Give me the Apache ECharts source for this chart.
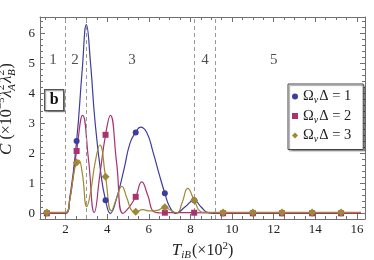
<!DOCTYPE html>
<html>
<head>
<meta charset="utf-8">
<script src="https://cdn.jsdelivr.net/npm/echarts@6.0.0/dist/echarts.min.js"></script>
<style>
html,body{margin:0;padding:0;background:#fff;}
#chart{width:374px;height:260px;}
</style>
</head>
<body>
<div id="chart"></div>
<script>
// ---- data ----
const sampleX = [1.1, 2.53, 3.92, 5.37, 6.77, 8.18, 9.57, 11.0, 12.4, 13.85, 15.24];
const marks1 = [0, 2.41, 0.44, 2.7, 0.67, 0.44, 0, 0, 0, 0, 0];
const marks2 = [0, 2.08, 2.62, 0.55, 0.02, 0.02, 0, 0, 0, 0, 0];
const marks3 = [0.03, 1.7, 1.22, 0.05, 0.2, 0.44, 0.03, 0.03, 0.03, 0.03, 0.03];

const curve1X = [1.1, 2.0, 2.2, 2.53, 2.8, 3.0, 3.2, 3.41, 3.7, 3.92, 4.15, 4.45, 4.8, 5.1, 5.37, 5.6, 5.9, 6.2, 6.5, 6.77, 7.0, 7.3, 7.75, 8.18, 8.5, 8.85, 9.2, 16.2];
const curve1Y = [0, 0, 0.5, 2.41, 4.8, 6.3, 5.0, 3.1, 1.3, 0.44, 0, 0.5, 1.45, 2.35, 2.7, 2.88, 2.7, 2.05, 1.3, 0.67, 0.22, 0, 0.22, 0.44, 0.22, 0.02, 0, 0];

const curve2X = [1.1, 2.0, 2.2, 2.53, 2.82, 3.1, 3.38, 3.65, 3.92, 4.15, 4.45, 4.75, 5.05, 5.37, 5.66, 5.95, 6.25, 6.6, 6.77, 8.18, 9.57, 16.2];
const curve2Y = [0, 0, 0.45, 2.08, 3.27, 1.8, 0.03, 1.3, 2.62, 3.27, 1.7, 0.0, 0.2, 0.55, 1.05, 0.6, 0.05, 0.01, 0.02, 0.02, 0, 0];

const curve3X = [1.1, 2.0, 2.2, 2.4, 2.53, 2.63, 2.8, 3.02, 3.2, 3.42, 3.65, 3.92, 4.2, 4.45, 4.7, 4.95, 5.2, 5.37, 5.7, 6.05, 6.4, 6.77, 7.05, 7.35, 7.6, 7.87, 8.18, 8.5, 8.7, 9.57, 16.2];
const curve3Y = [0.03, 0.03, 0.45, 1.35, 1.7, 1.78, 1.35, 0.22, 0.7, 1.7, 2.28, 1.22, 0.08, 0.5, 0.9, 0.5, 0.08, 0.05, 0.12, 0.08, 0.1, 0.2, 0.1, 0.02, 0.35, 0.83, 0.44, 0.05, 0.03, 0.03, 0.03];

const regionLabels = ['1', '2', '3', '4', '5'];
const regionX = [1.39, 2.45, 5.19, 8.7, 12.0];
const regionY = 5.1;
const dividers = [2.0, 3.0, 8.18, 9.18];

const xMajor = [2, 4, 6, 8, 10, 12, 14, 16];
const yMajor = [0, 1, 2, 3, 4, 5, 6];
const seriesLabels = ['1', '2', '3'];

// ---- helpers ----
const XMIN = 0.77, XMAX = 16.39, YMIN = -0.19, YMAX = 6.553;
const xMinor = []; for (let v = 1; v <= 16.01; v += 0.5) { if (Math.abs(v/2 - Math.round(v/2)) > 1e-6) xMinor.push(+v.toFixed(2)); }
const yMinor = []; for (let i = 1; i <= 32; i++) { const v = +(i*0.2).toFixed(2); if (Math.abs(v - Math.round(v)) > 1e-6) yMinor.push(v); }
const zip = (xs, ys) => xs.map((x, i) => [x, ys[i]]);

const colors = ['#3d3d9e', '#a8336f', '#9e8833'];
const symbols = ['circle', 'rect', 'diamond'];
const symSizes = [6, 6, 8];
const frame = '#707070';
const serif = 'Liberation Serif';
const ink = '#222';

function xAxisDef(pos, major) {
  return {
    type: 'value', position: pos, min: XMIN, max: XMAX,
    axisLine: { show: major, onZero: false, lineStyle: { color: frame, width: 1 } },
    axisTick: { show: true, inside: true, length: major ? 5 : 3, customValues: major ? xMajor : xMinor, lineStyle: { color: frame, width: 1 } },
    axisLabel: (pos === 'bottom' && major) ? { show: true, customValues: xMajor, margin: 4, fontFamily: serif, fontSize: 13, color: ink } : { show: false },
    splitLine: { show: false }
  };
}
function yAxisDef(pos, major) {
  return {
    type: 'value', position: pos, min: YMIN, max: YMAX,
    axisLine: { show: major, onZero: false, lineStyle: { color: frame, width: 1 } },
    axisTick: { show: true, inside: true, length: major ? 5 : 3, customValues: major ? yMajor : yMinor, lineStyle: { color: frame, width: 1 } },
    axisLabel: (pos === 'left' && major) ? { show: true, customValues: yMajor, margin: 5, fontFamily: serif, fontSize: 13, color: ink } : { show: false },
    splitLine: { show: false }
  };
}

const xAxes = [xAxisDef('bottom', true), xAxisDef('bottom', false), xAxisDef('top', true), xAxisDef('top', false)];
xAxes[0].name = '{it|T}{sb|iB}{n|(×10}{sp|2}{n|)}';
xAxes[0].nameLocation = 'middle';
xAxes[0].nameGap = 16;
xAxes[0].nameTextStyle = {
  fontFamily: serif, fontSize: 15, color: ink,
  rich: {
    it: { fontFamily: serif, fontStyle: 'italic', fontSize: 17, lineHeight: 20, color: ink },
    sb: { fontFamily: serif, fontStyle: 'italic', fontSize: 11, lineHeight: 11, verticalAlign: 'bottom', color: ink, padding: [0, 1, 0, 0] },
    n: { fontFamily: serif, fontSize: 16, lineHeight: 20, color: ink },
    sp: { fontFamily: serif, fontSize: 11, lineHeight: 11, verticalAlign: 'top', color: ink }
  }
};
const yAxes = [yAxisDef('left', true), yAxisDef('left', false), yAxisDef('right', true), yAxisDef('right', false)];
yAxes[0].name = '{it|C}{n| (×10}{sp|−5}{it|λ}{sp|2}{sb|A}{it|λ}{sp|2}{sb|B}{n|)}';
yAxes[0].nameLocation = 'middle';
yAxes[0].nameGap = 18;
yAxes[0].nameTextStyle = {
  fontFamily: serif, fontSize: 15, color: ink, padding: [0, 0, 0, 18],
  rich: {
    it: { fontFamily: serif, fontStyle: 'italic', fontSize: 17, lineHeight: 22, color: ink },
    n: { fontFamily: serif, fontSize: 16, lineHeight: 22, color: ink },
    sp: { fontFamily: serif, fontSize: 11, lineHeight: 11, verticalAlign: 'top', color: ink },
    sb: { fontFamily: serif, fontStyle: 'italic', fontSize: 11, lineHeight: 11, verticalAlign: 'bottom', color: ink, padding: [0, 1, 0, -6] }
  }
};

const curves = [zip(curve1X, curve1Y), zip(curve2X, curve2Y), zip(curve3X, curve3Y)];
const marks = [zip(sampleX, marks1), zip(sampleX, marks2), zip(sampleX, marks3)];
const seriesNames = seriesLabels.map(k => 'S' + k);

const series = [];
series.push({
  type: 'line', name: 'dividers', data: [], xAxisIndex: 0, yAxisIndex: 0, silent: true,
  markLine: {
    symbol: ['none', 'none'], silent: true, label: { show: false },
    lineStyle: { color: '#999', type: [4, 3], width: 1 },
    data: dividers.map(v => ({ xAxis: v }))
  }
});
curves.forEach((c, i) => {
  series.push({
    type: 'line', name: 'curve' + i, data: c, xAxisIndex: 0, yAxisIndex: 0,
    smooth: 0.5, showSymbol: false, symbol: 'none',
    lineStyle: { color: colors[i], width: 1.2 }, z: 3 + i
  });
});
marks.forEach((m, i) => {
  series.push({
    type: 'scatter', name: seriesNames[i], data: m, xAxisIndex: 0, yAxisIndex: 0,
    symbol: symbols[i], symbolSize: symSizes[i],
    itemStyle: { color: colors[i], opacity: 1 }, z: 6 + i
  });
});
series.push({
  type: 'scatter', name: 'regions', xAxisIndex: 0, yAxisIndex: 0, symbolSize: 0, silent: true,
  data: regionX.map((x, i) => ({ value: [x, regionY], name: regionLabels[i] })),
  label: { show: true, position: 'inside', formatter: '{b}', fontFamily: serif, fontSize: 15, color: ink },
  z: 10
});

const option = {
  animation: false,
  backgroundColor: '#fff',
  grid: { left: 40, right: 9, top: 17, bottom: 41, containLabel: false, outerBoundsMode: 'none' },
  xAxis: xAxes,
  yAxis: yAxes,
  legend: {
    data: seriesNames.map((n, i) => ({ name: n, icon: symbols[i] })),
    orient: 'vertical', left: 288, top: 84,
    itemWidth: 6, itemHeight: 6, itemGap: 3,
    padding: [5, 12, 5, 4],
    backgroundColor: '#fff', borderColor: '#444', borderWidth: 1,
    shadowColor: 'rgba(0,0,0,0.35)', shadowOffsetX: 1.5, shadowOffsetY: 1.5, shadowBlur: 1,
    formatter: name => '{g|Ω}{s|ν}{g|Δ = ' + name.slice(1) + '}',
    textStyle: {
      fontFamily: serif, fontSize: 14, color: ink, padding: [0, 0, 0, 0],
      rich: {
        g: { fontFamily: serif, fontSize: 14.5, lineHeight: 18, color: ink },
        s: { fontFamily: serif, fontStyle: 'italic', fontSize: 10, lineHeight: 10, verticalAlign: 'bottom', color: ink, padding: [0, 1, 0, 0] }
      }
    }
  },
  graphic: [
    {
      type: 'group', left: 44, top: 89,
      children: [
        { type: 'rect', shape: { x: 0, y: 0, width: 19, height: 21 }, style: { fill: '#fff', stroke: '#555', lineWidth: 1.2, shadowColor: 'rgba(0,0,0,0.3)', shadowOffsetX: 1, shadowOffsetY: 1, shadowBlur: 1 } },
        { type: 'text', x: 9.5, y: 10.5, style: { text: 'b', fontFamily: serif, fontWeight: 'bold', fontSize: 16, fill: '#111', align: 'center', verticalAlign: 'middle' } }
      ]
    }
  ],
  series: series
};

const chart = echarts.init(document.getElementById('chart'), null, { renderer: 'canvas' });
chart.setOption(option);
</script>
</body>
</html>
